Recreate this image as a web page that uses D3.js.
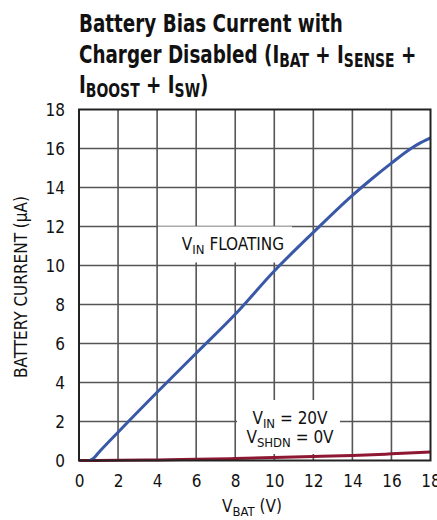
<!DOCTYPE html>
<html>
<head>
<meta charset="utf-8">
<script src="https://cdn.jsdelivr.net/npm/d3@7"></script>
<style>
  html, body { margin: 0; padding: 0; background: #fff; }
  svg { display: block; }
  text { font-family: "Liberation Sans Narrow", "DejaVu Sans Condensed", "Arial Narrow", sans-serif; fill: #111; }
</style>
</head>
<body>
<svg id="chart" width="437" height="520"></svg>
<script>
// ---- data ----
const xTickValues = [0, 2, 4, 6, 8, 10, 12, 14, 16, 18];
const yTickValues = [0, 2, 4, 6, 8, 10, 12, 14, 16, 18];

const floatingVbat = [0.55, 0.75, 1, 2, 4, 6, 8, 10, 12, 14, 15, 16, 17, 17.5, 18];
const floatingCurrent = [0, 0.12, 0.4, 1.45, 3.5, 5.5, 7.5, 9.72, 11.7, 13.6, 14.45, 15.25, 16.0, 16.3, 16.55];

const vin20Vbat = [0, 2, 4, 6, 8, 10, 12, 14, 16, 18];
const vin20Current = [0, 0.01, 0.03, 0.06, 0.1, 0.15, 0.2, 0.26, 0.34, 0.43];

const titleLines = [
  [{t: "Battery Bias Current with"}],
  [{t: "Charger Disabled (I"}, {t: "BAT", sub: true}, {t: " + I"}, {t: "SENSE", sub: true}, {t: " +"}],
  [{t: "I"}, {t: "BOOST", sub: true}, {t: " + I"}, {t: "SW", sub: true}, {t: ")"}]
];

// ---- layout ----
const svg = d3.select("#chart");
const pL = 79, pR = 430.5, pT = 109.5, pB = 460.5;

const x = d3.scaleLinear().domain([0, 18]).range([pL, pR]);
const y = d3.scaleLinear().domain([0, 18]).range([pB, pT]);

function subText(parent, xp, yp, parts, opts) {
  const o = Object.assign({anchor: "start", size: 17, subSize: 13, shift: 4, weight: "normal"}, opts || {});
  const t = parent.append("text").attr("x", xp).attr("y", yp)
    .attr("text-anchor", o.anchor).style("font-size", o.size + "px").style("font-weight", o.weight);
  let prevSub = false;
  parts.forEach(p => {
    const ts = t.append("tspan").text(p.t);
    if (p.sub) { ts.style("font-size", o.subSize + "px").attr("dy", o.shift); prevSub = true; }
    else if (prevSub) { ts.attr("dy", -o.shift); prevSub = false; }
  });
  return t;
}

// Title (condensed by horizontal scaling to mimic a condensed bold face)
const titleG = svg.append("g");
const titleBase = [32, 63, 93];
const titleNodes = titleLines.map((line, i) =>
  subText(titleG, 0, titleBase[i], line, {size: 25, subSize: 19, shift: 4, weight: "bold"}));
const w1 = titleNodes[0].node().getComputedTextLength();
const sx = Math.min(1, 264 / w1);
titleG.attr("transform", `translate(${pL},0) scale(${sx},1)`);

// Grid
const grid = svg.append("g");
grid.selectAll("line.v").data(xTickValues.filter(v => v > 0 && v < 18)).enter()
  .append("line")
  .attr("x1", d => x(d)).attr("x2", d => x(d))
  .attr("y1", pT).attr("y2", pB)
  .attr("stroke", "#555").attr("stroke-width", 1.6);
grid.selectAll("line.h").data(yTickValues.filter(v => v > 0 && v < 18)).enter()
  .append("line")
  .attr("x1", pL).attr("x2", pR)
  .attr("y1", d => y(d)).attr("y2", d => y(d))
  .attr("stroke", "#555").attr("stroke-width", 1.6);

// Annotation backgrounds (knock out gridlines)
svg.append("rect").attr("x", 158).attr("y", 226.5).attr("width", 134).attr("height", 36).attr("fill", "#fff");
svg.append("rect").attr("x", 237).attr("y", 400).attr("width", 103).attr("height", 54).attr("fill", "#fff");

// Axes (labels only)
const xAxis = d3.axisBottom(x).tickValues(xTickValues).tickSize(0).tickPadding(0);
const gx = svg.append("g").attr("transform", `translate(0,${pB})`).call(xAxis);
gx.select(".domain").remove();
gx.selectAll("text").attr("y", 26).attr("dy", 0)
  .style("font-size", "17px").style("fill", "#111")
  .style("font-family", "'Liberation Sans Narrow', 'DejaVu Sans Condensed', sans-serif");

const yAxis = d3.axisLeft(y).tickValues(yTickValues).tickSize(0).tickPadding(0);
const gy = svg.append("g").attr("transform", `translate(${pL},0)`).call(yAxis);
gy.select(".domain").remove();
gy.selectAll("text").attr("x", -14).attr("dy", "0.36em")
  .style("font-size", "17px").style("fill", "#111")
  .style("font-family", "'Liberation Sans Narrow', 'DejaVu Sans Condensed', sans-serif");

// Lines
const lineGen = d3.line().x(d => x(d[0])).y(d => y(d[1])).curve(d3.curveMonotoneX);
svg.append("path")
  .datum(vin20Vbat.map((v, i) => [v, vin20Current[i]]))
  .attr("d", lineGen).attr("fill", "none")
  .attr("stroke", "#8e1732").attr("stroke-width", 3);
svg.append("path")
  .datum(floatingVbat.map((v, i) => [v, floatingCurrent[i]]))
  .attr("d", lineGen).attr("fill", "none")
  .attr("stroke", "#3a58a8").attr("stroke-width", 3);

// Frame
svg.append("rect").attr("x", pL).attr("y", pT)
  .attr("width", pR - pL).attr("height", pB - pT)
  .attr("fill", "none").attr("stroke", "#222").attr("stroke-width", 2);

// Annotations
subText(svg, 233, 250, [{t: "V"}, {t: "IN", sub: true}, {t: " FLOATING"}], {anchor: "middle"});
subText(svg, 290, 424, [{t: "V"}, {t: "IN", sub: true}, {t: " = 20V"}], {anchor: "middle"});
subText(svg, 290, 443, [{t: "V"}, {t: "SHDN", sub: true}, {t: " = 0V"}], {anchor: "middle"});

// Axis titles
subText(svg, 252, 512, [{t: "V"}, {t: "BAT", sub: true}, {t: " (V)"}], {anchor: "middle"});
svg.append("text")
  .attr("transform", `translate(27,${(pT + pB) / 2 + 2}) rotate(-90)`)
  .attr("text-anchor", "middle").style("font-size", "17px")
  .text("BATTERY CURRENT (µA)");
</script>
</body>
</html>
